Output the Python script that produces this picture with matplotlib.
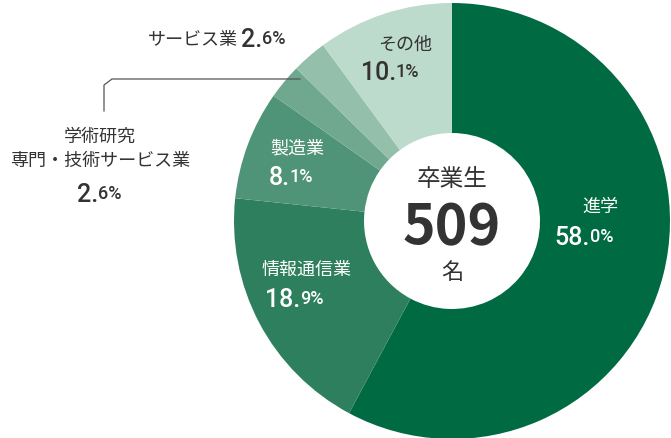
import matplotlib
matplotlib.use("agg")
from matplotlib import pyplot as plt

plt.rcParams['font.family'] = ['Noto Sans CJK JP', 'DejaVu Sans']

labels = ["進学", "情報通信業", "製造業", "学術研究\n専門・技術サービス業", "サービス業", "その他"]
shares = [58.0, 18.9, 8.1, 2.6, 2.6, 10.1]
colors = ["#006a43", "#2d7f5e", "#4f9478", "#6fa88f", "#94c0ab", "#bddbcd"]
total_graduates = 509

W, H = 671, 439
fig = plt.figure(figsize=(W / 100, H / 100), dpi=100)
ax = fig.add_axes([0, 0, 1, 1])

cx, cy, r = 452, H - 222, 218
ax.pie(shares, colors=colors, startangle=90, counterclock=False, center=(cx, cy),
       radius=r, wedgeprops=dict(width=r - 88, linewidth=0), frame=True)
ax.set_xlim(0, W)
ax.set_ylim(0, H)
ax.set_aspect("equal")
ax.axis("off")


def pct(x, y, value, color):
    whole, frac = f"{value:.1f}".split(".")
    ax.text(x, H - y, whole + ".", ha="right", va="center", fontsize=18,
            family="Roboto", fontweight="medium", color=color)
    ax.text(x, H - y + 1, frac + "%", ha="left", va="center", fontsize=13,
            family="Roboto", fontweight="medium", color=color)


# in-slice labels
ax.text(600, H - 207, labels[0], ha="center", va="center", fontsize=13, color="white")
pct(590, 238, shares[0], "white")
ax.text(307, H - 270, labels[1], ha="center", va="center", fontsize=13, color="white")
pct(300, 300, shares[1], "white")
ax.text(297, H - 148, labels[2], ha="center", va="center", fontsize=13, color="white")
pct(290, 178, shares[2], "white")
ax.text(405, H - 45, labels[5], ha="center", va="center", fontsize=13, color="#333333")
pct(396, 73, shares[5], "#333333")

# outside labels
ax.text(238, H - 40, labels[4], ha="right", va="center", fontsize=13, color="#333333")
pct(262, 40, shares[4], "#333333")
ax.text(100, H - 149, labels[3], ha="center", va="center", fontsize=13,
        color="#333333", linespacing=1.4)
pct(98, 195, shares[3], "#333333")
ax.plot([300, 112, 104, 104], [H - 80, H - 80, H - 86, H - 112],
        color="#555555", lw=0.9)

# center
ax.text(cx, H - 180, "卒業生", ha="center", va="center", fontsize=17, color="#333333")
ax.text(cx, H - 228, str(total_graduates), ha="center", va="center", fontsize=40,
        fontweight="bold", color="#333333")
ax.text(cx, H - 272, "名", ha="center", va="center", fontsize=16, color="#333333")

fig.savefig("out.png", dpi=100)
